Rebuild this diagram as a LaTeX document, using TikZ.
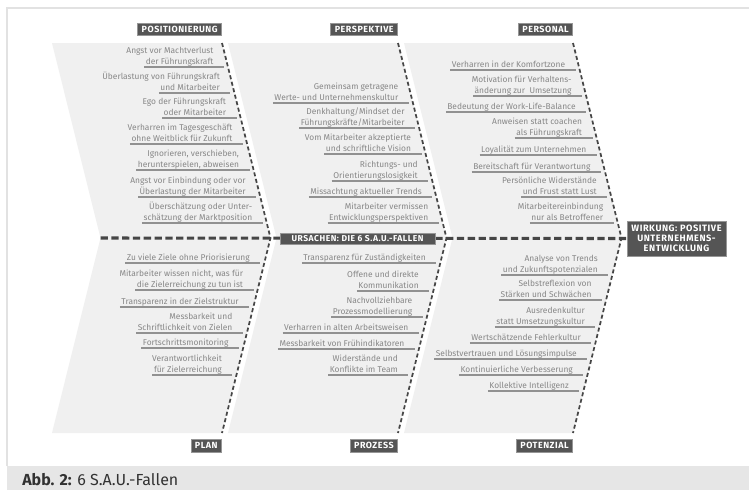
\documentclass[tikz,border=0pt]{standalone}
\usepackage{fontspec}
\setmainfont{Fira Sans}
\newfontfamily\catfont[LetterSpace=6]{Fira Sans}
\usepackage{tikz}

\definecolor{bandgray}{RGB}{240,240,240}
\definecolor{causetext}{RGB}{135,135,135}
\definecolor{ulinegray}{RGB}{145,145,145}
\definecolor{bonegray}{RGB}{70,70,70}
\definecolor{catfill}{RGB}{85,85,85}
\definecolor{catdraw}{RGB}{150,150,150}
\definecolor{framegray}{RGB}{226,226,226}
\definecolor{capgray}{RGB}{230,230,230}
\definecolor{captext}{RGB}{50,50,50}

\tikzset{
  cause/.style={anchor=south east, inner xsep=1pt, inner ysep=0.6pt, text height=4.9pt, text depth=1.3pt, font=\fontsize{6.3}{7.5}\selectfont, text=causetext},
  uline/.style={draw=ulinegray, line width=0.9pt},
  bone/.style={draw=bonegray, line width=1.3pt, dash pattern={on 3pt off 2pt}},
  spine/.style={draw=bonegray, line width=2.3pt, dash pattern={on 5.5pt off 2.6pt}},
  catbox/.style={fill=catfill, draw=catdraw, line width=0.5pt, text=white, font=\catfont\bfseries\fontsize{6.7}{7.8}\selectfont, inner xsep=3pt, inner ysep=0pt, minimum height=9.5pt},
  band/.style={fill=bandgray}
}

\begin{document}
\begin{tikzpicture}[x=0.75pt,y=0.75pt,yscale=-1,xscale=1]
\useasboundingbox (0,0) rectangle (749,490);

%Frame and caption band
\fill[white] (0,0) rectangle (749,490);
\fill[capgray] (7,466) rectangle (749,490);
\draw[framegray, line width=1.5pt] (7,466) -- (7,8) -- (749,8);
\node[anchor=base west, inner sep=0pt, text=captext, font=\fontsize{12}{14}\selectfont] (caption) at (22,485) {\textbf{Abb. 2:} 6 S.A.U.-Fallen};

%Shape: bands
\fill[band] (52,43) -- (222,43) -- (270.5,238) -- (222,433) -- (52,433) -- (100.5,238) -- cycle;
\fill[band] (228,43) -- (398,43) -- (446.5,238) -- (398,433) -- (228,433) -- (276.5,238) -- cycle;
\fill[band] (404,43) -- (573,43) -- (621.5,238) -- (573,433) -- (404,433) -- (452.5,238) -- cycle;

%Bone points
\coordinate (posTop) at (222,43);
\coordinate (planSp) at (270.5,238);
\coordinate (planEnd) at (222,433);
\coordinate (perTop) at (398,43);
\coordinate (proSp) at (446.5,238);
\coordinate (proEnd) at (398,433);
\coordinate (psnTop) at (573,43);
\coordinate (potSp) at (621.5,238);
\coordinate (potEnd) at (573,433);
\coordinate (spineStart) at (100.5,238);

% Effect node
\node[catbox, align=center, minimum width=74pt, minimum height=26pt, font=\catfont\bfseries\fontsize{6.9}{7.6}\selectfont] (wirkung) at (676.5,238.5) {WIRKUNG: POSITIVE\\UNTERNEHMENS-\\ENTWICKLUNG};

%Spine and bones
\draw[spine] (spineStart) -- (wirkung.west);
\draw[bone] (posTop) -- (planSp) -- (planEnd);
\draw[bone] (perTop) -- (proSp) -- (proEnd);
\draw[bone] (psnTop) -- (potSp) -- (potEnd);

% Category labels
\node[catbox, anchor=south east] (posLabel) at (222,36) {POSITIONIERUNG};
\node[catbox, anchor=south east] (perLabel) at (398,36) {PERSPEKTIVE};
\node[catbox, anchor=south east] (psnLabel) at (573,36) {PERSONAL};
\node[catbox, anchor=north east] (planLabel) at (222,439) {PLAN};
\node[catbox, anchor=north east] (proLabel) at (398,439) {PROZESS};
\node[catbox, anchor=north east] (potLabel) at (573,439) {POTENZIAL};
\node[catbox, minimum width=116pt, minimum height=8.5pt, font=\catfont\bfseries\fontsize{6.4}{7.5}\selectfont] (ursachen) at (357.5,238.5) {URSACHEN: DIE 6 S.A.U.-FALLEN};

% Positionierung
\node[cause] (pos1b) at (215,67) {der Führungskraft};
\node[cause] (pos1a) at (pos1b.north east) {Angst vor Machtverlust};
\coordinate (pos1u) at (224,67);
\draw[uline] (pos1b.south west) -- (pos1u);
\node[cause] (pos2b) at (221.4,93) {und Mitarbeiter};
\node[cause] (pos2a) at (pos2b.north east) {Überlastung von Führungskraft};
\coordinate (pos2u) at (230.4,93);
\draw[uline] (pos2b.south west) -- (pos2u);
\node[cause] (pos3b) at (227.6,118) {oder Mitarbeiter};
\node[cause] (pos3a) at (pos3b.north east) {Ego der Führungskraft};
\coordinate (pos3u) at (236.6,118);
\draw[uline] (pos3b.south west) -- (pos3u);
\node[cause] (pos4b) at (234.1,144) {ohne Weitblick für Zukunft};
\node[cause] (pos4a) at (pos4b.north east) {Verharren im Tagesgeschäft};
\coordinate (pos4u) at (243.1,144);
\draw[uline] (pos4b.south west) -- (pos4u);
\node[cause] (pos5b) at (240.6,170) {herunterspielen, abweisen};
\node[cause] (pos5a) at (pos5b.north east) {Ignorieren, verschieben,};
\coordinate (pos5u) at (249.6,170);
\draw[uline] (pos5b.south west) -- (pos5u);
\node[cause] (pos6b) at (247.3,197) {Überlastung der Mitarbeiter};
\node[cause] (pos6a) at (pos6b.north east) {Angst vor Einbindung oder vor};
\coordinate (pos6u) at (256.3,197);
\draw[uline] (pos6b.south west) -- (pos6u);
\node[cause] (pos7b) at (253.8,223) {schätzung der Marktposition};
\node[cause] (pos7a) at (pos7b.north east) {Überschätzung oder Unter-};
\coordinate (pos7u) at (262.8,223);
\draw[uline] (pos7b.south west) -- (pos7u);

% Perspektive
\node[cause] (per1b) at (399.9,103) {Werte- und Unternehmenskultur};
\node[cause] (per1a) at (per1b.north east) {Gemeinsam getragene};
\coordinate (per1u) at (408.9,103);
\draw[uline] (per1b.south west) -- (per1u);
\node[cause] (per2b) at (406.1,128) {Führungskräfte/Mitarbeiter};
\node[cause] (per2a) at (per2b.north east) {Denkhaltung/Mindset der};
\coordinate (per2u) at (415.1,128);
\draw[uline] (per2b.south west) -- (per2u);
\node[cause] (per3b) at (412.6,154) {und schriftliche Vision};
\node[cause] (per3a) at (per3b.north east) {Vom Mitarbeiter akzeptierte};
\coordinate (per3u) at (421.6,154);
\draw[uline] (per3b.south west) -- (per3u);
\node[cause] (per4b) at (419.3,181) {Orientierungslosigkeit};
\node[cause] (per4a) at (per4b.north east) {Richtungs- und};
\coordinate (per4u) at (428.3,181);
\draw[uline] (per4b.south west) -- (per4u);
\node[cause] (per5) at (423.3,197) {Missachtung aktueller Trends};
\coordinate (per5u) at (432.3,197);
\draw[uline] (per5.south west) -- (per5u);
\node[cause] (per6b) at (429.8,223) {Entwicklungsperspektiven};
\node[cause] (per6a) at (per6b.north east) {Mitarbeiter vermissen};
\coordinate (per6u) at (438.8,223);
\draw[uline] (per6b.south west) -- (per6u);

% Personal
\node[cause] (psn1) at (566.7,70) {Verharren in der Komfortzone};
\coordinate (psn1u) at (575.7,70);
\draw[uline] (psn1.south west) -- (psn1u);
\node[cause] (psn2b) at (573.2,96) {änderung zur\ \ Umsetzung};
\node[cause] (psn2a) at (psn2b.north east) {Motivation für Verhaltens-};
\coordinate (psn2u) at (582.2,96);
\draw[uline] (psn2b.south west) -- (psn2u);
\node[cause] (psn3) at (577.2,112) {Bedeutung der Work-Life-Balance};
\coordinate (psn3u) at (586.2,112);
\draw[uline] (psn3.south west) -- (psn3u);
\node[cause] (psn4b) at (583.6,138) {als Führungskraft};
\node[cause] (psn4a) at (psn4b.north east) {Anweisen statt coachen};
\coordinate (psn4u) at (592.6,138);
\draw[uline] (psn4b.south west) -- (psn4u);
\node[cause] (psn5) at (587.9,155) {Loyalität zum Unternehmen};
\coordinate (psn5u) at (596.9,155);
\draw[uline] (psn5.south west) -- (psn5u);
\node[cause] (psn6) at (592.1,172) {Bereitschaft für Verantwortung};
\coordinate (psn6u) at (601.1,172);
\draw[uline] (psn6.south west) -- (psn6u);
\node[cause] (psn7b) at (598.3,197) {und Frust statt Lust};
\node[cause] (psn7a) at (psn7b.north east) {Persönliche Widerstände};
\coordinate (psn7u) at (607.3,197);
\draw[uline] (psn7b.south west) -- (psn7u);
\node[cause] (psn8b) at (604.8,223) {nur als Betroffener};
\node[cause] (psn8a) at (psn8b.north east) {Mitarbeitereinbindung};
\coordinate (psn8u) at (613.8,223);
\draw[uline] (psn8b.south west) -- (psn8u);

% Plan
\node[cause] (plan1) at (251.3,263) {Zu viele Ziele ohne Priorisierung};
\coordinate (plan1u) at (260.3,263);
\draw[uline] (plan1.south west) -- (plan1u);
\node[cause] (plan2b) at (244.6,290) {die Zielerreichung zu tun ist};
\node[cause] (plan2a) at (plan2b.north east) {Mitarbeiter wissen nicht, was für};
\coordinate (plan2u) at (253.6,290);
\draw[uline] (plan2b.south west) -- (plan2u);
\node[cause] (plan3) at (240.3,307) {Transparenz in der Zielstruktur};
\coordinate (plan3u) at (249.3,307);
\draw[uline] (plan3.south west) -- (plan3u);
\node[cause] (plan4b) at (233.9,333) {Schriftlichkeit von Zielen};
\node[cause] (plan4a) at (plan4b.north east) {Messbarkeit und};
\coordinate (plan4u) at (242.9,333);
\draw[uline] (plan4b.south west) -- (plan4u);
\node[cause] (plan5) at (230.1,348) {Fortschrittsmonitoring};
\coordinate (plan5u) at (239.1,348);
\draw[uline] (plan5.south west) -- (plan5u);
\node[cause] (plan6b) at (223.4,375) {für Zielerreichung};
\node[cause] (plan6a) at (plan6b.north east) {Verantwortlichkeit};
\coordinate (plan6u) at (232.4,375);
\draw[uline] (plan6b.south west) -- (plan6u);

% Prozess
\node[cause] (pro1) at (427.3,263) {Transparenz für Zuständigkeiten};
\coordinate (pro1u) at (436.3,263);
\draw[uline] (pro1.south west) -- (pro1u);
\node[cause] (pro2b) at (420.3,291) {Kommunikation};
\node[cause] (pro2a) at (pro2b.north east) {Offene und direkte};
\coordinate (pro2u) at (429.3,291);
\draw[uline] (pro2b.south west) -- (pro2u);
\node[cause] (pro3b) at (413.9,317) {Prozessmodellierung};
\node[cause] (pro3a) at (pro3b.north east) {Nachvollziehbare};
\coordinate (pro3u) at (422.9,317);
\draw[uline] (pro3b.south west) -- (pro3u);
\node[cause] (pro4) at (409.9,333) {Verharren in alten Arbeitsweisen};
\coordinate (pro4u) at (418.9,333);
\draw[uline] (pro4.south west) -- (pro4u);
\node[cause] (pro5) at (405.9,349) {Messbarkeit von Frühindikatoren};
\coordinate (pro5u) at (414.9,349);
\draw[uline] (pro5.south west) -- (pro5u);
\node[cause] (pro6b) at (399.4,375) {Konflikte im Team};
\node[cause] (pro6a) at (pro6b.north east) {Widerstände und};
\coordinate (pro6u) at (408.4,375);
\draw[uline] (pro6b.south west) -- (pro6u);

% Potenzial
\node[cause] (pot1b) at (599.3,275) {und Zukunftspotenzialen};
\node[cause] (pot1a) at (pot1b.north east) {Analyse von Trends};
\coordinate (pot1u) at (608.3,275);
\draw[uline] (pot1b.south west) -- (pot1u);
\node[cause] (pot2b) at (593.1,300) {Stärken und Schwächen};
\node[cause] (pot2a) at (pot2b.north east) {Selbstreflexion von};
\coordinate (pot2u) at (602.1,300);
\draw[uline] (pot2b.south west) -- (pot2u);
\node[cause] (pot3b) at (586.4,327) {statt Umsetzungskultur};
\node[cause] (pot3a) at (pot3b.north east) {Ausredenkultur};
\coordinate (pot3u) at (595.4,327);
\draw[uline] (pot3b.south west) -- (pot3u);
\node[cause] (pot4) at (582.4,343) {Wertschätzende Fehlerkultur};
\coordinate (pot4u) at (591.4,343);
\draw[uline] (pot4.south west) -- (pot4u);
\node[cause] (pot5) at (578.4,359) {Selbstvertrauen und Lösungsimpulse};
\coordinate (pot5u) at (587.4,359);
\draw[uline] (pot5.south west) -- (pot5u);
\node[cause] (pot6) at (574.4,375) {Kontinuierliche Verbesserung};
\coordinate (pot6u) at (583.4,375);
\draw[uline] (pot6.south west) -- (pot6u);
\node[cause] (pot7) at (570.4,391) {Kollektive Intelligenz};
\coordinate (pot7u) at (579.4,391);
\draw[uline] (pot7.south west) -- (pot7u);

\end{tikzpicture}
\end{document}
